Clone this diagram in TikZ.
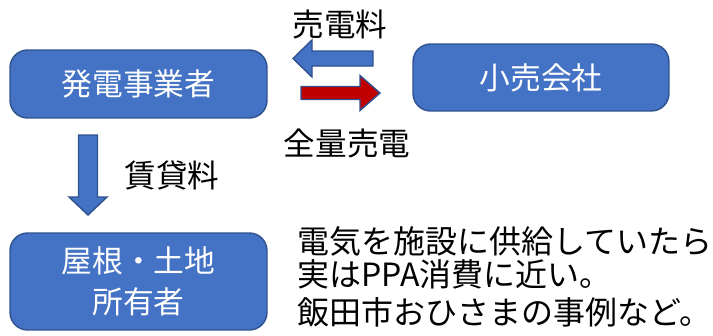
\documentclass[tikz,border=0pt]{standalone}
\usepackage{fontspec}
\setmainfont{Noto Sans CJK JP}
\usetikzlibrary{positioning}
\definecolor{boxblue}{HTML}{4472C4}
\definecolor{boxedge}{HTML}{2F528F}
\definecolor{arrred}{HTML}{C00000}
% block arrow: tail x, head base x, tip x, centre y, half shaft, half head
\newcommand{\harrow}[7]{%
  \draw[line width=0.8pt, draw=boxedge, fill=#7]
    (#1,{#4-#5}) -- (#2,{#4-#5}) -- (#2,{#4-#6}) -- (#3,#4)
    -- (#2,{#4+#6}) -- (#2,{#4+#5}) -- (#1,{#4+#5}) -- cycle;}
\newcommand{\varrow}[6]{%
  \draw[line width=0.8pt, draw=boxedge, fill=boxblue]
    ({#4-#5},#1) -- ({#4-#5},#2) -- ({#4-#6},#2) -- (#4,#3)
    -- ({#4+#6},#2) -- ({#4+#5},#2) -- ({#4+#5},#1) -- cycle;}
\tikzset{
  party/.style={draw=boxedge, line width=0.8pt, fill=boxblue, rounded corners=10pt,
    text=white, font=\fontsize{17.5}{23.5}\selectfont, align=center,
    minimum height=1.36cm, inner sep=0pt},
  flow/.style={font=\fontsize{18}{21}\selectfont, inner sep=0pt},
  note/.style={font=\fontsize{18.2}{21}\selectfont, inner sep=0pt, anchor=west}
}
\begin{document}
\begin{tikzpicture}[x=0.02cm, y=-0.02cm]
\useasboundingbox (0,0) rectangle (713,335);
% parties
\node[party, minimum width=5.14cm] (gen) at (138.5,84) {発電事業者};
\node[party, minimum width=5.12cm, minimum height=1.34cm] (retail) at (541,77.5) {小売会社};
\node[party, minimum width=5.14cm, minimum height=1.94cm] (owner) at (138.5,281.5) {屋根・土地\\所有者};
% arrows between them
\harrow{373}{312}{293}{58.5}{7.5}{18.5}{boxblue}
\harrow{301}{360}{380}{93}{6.5}{17.5}{arrred}
\varrow{135}{197}{215}{88}{9.5}{19}
% labels
\node[flow] (fee) at (340,24) {売電料};
\node[flow] (sell) at (347,143) {全量売電};
\node[flow] (rent) at (172,175) {賃貸料};
% note
\node[note] (n1) at (297,241) {電気を施設に供給していたら};
\node[note] (n2) at (297,274) {実はPPA消費に近い。};
\node[note] (n3) at (297,312) {飯田市おひさまの事例など。};
\end{tikzpicture}
\end{document}
